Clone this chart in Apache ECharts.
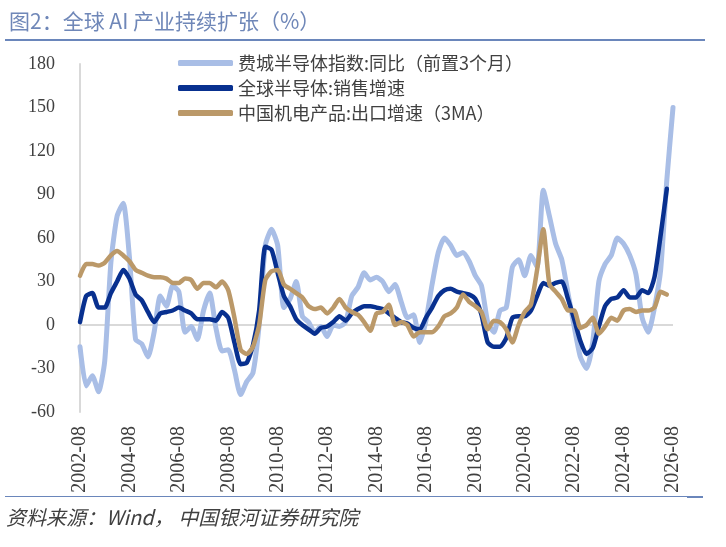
<!DOCTYPE html>
<html>
<head>
<meta charset="utf-8">
<script src="https://cdn.jsdelivr.net/npm/echarts@6/dist/echarts.min.js"></script>
<style>
html,body{margin:0;padding:0;background:#fff;}
#main{width:726px;height:547px;}
</style>
</head>
<body>
<div id="main"></div>
<script>
// 季度数据, 2002-08 ~ 2026-08
var startYear = 2002, startMonth = 8, count = 97;
var seriesNames = ['费城半导体指数:同比（前置3个月）', '全球半导体:销售增速', '中国机电产品:出口增速（3MA）'];
var yTicks = [-60, -30, 0, 30, 60, 90, 120, 150, 180];

var sox = [-15, -42, -35, -46, -25, 43, 75, 84, 47, -10, -13, -22, -5, 20, 13, 27, 23, -5, -1, -10,
	10, 22, -2, -18, -17, -31, -48, -39, -33, 0, 55, 66, 55, 12, 18, 30, 6, 2, -5,
	-1, -8, 0, -1, 2, 20, 26, 36, 31, 33, 30, 23, 28, 16, 5, 7, -12, 3, 28, 50,
	60, 55, 48, 50, 44, 34, 27, 2, -5, 10, 12, 40, 45, 34, 48, 40, 93, 75, 56, 45,
	22, -1, -22, -30, -12, 30, 42, 48, 60, 56, 48, 35, 5, -5, 12, 38, 100, 150];
var semi = [2, 20, 22, 12, 12, 22, 30, 38, 32, 21, 17, 9, 2, 8, 9, 10, 12, 10, 8, 4,
	4, 4, 3, 9, 5, -12, -27, -26, -14, 10, 54, 52, 36, 20, 13, 4, 0, -3, -6,
	-2, -1, 2, 6, 3, 8, 11, 13, 13, 12, 11, 8, 5, 2, 1, -2, -3, 5, 12, 20,
	24, 25, 23, 22, 21, 18, 7, -12, -15, -15, -9, 5, 6, 6, 10, 20, 29, 27, 29, 30,
	18, 4, -11, -20, -16, -1, 13, 18, 19, 24, 19, 19, 24, 22, 33, 62, 94, null];
var mech = [34, 42, 42, 41, 43, 48, 51, 48, 44, 38, 36, 34, 33, 33, 32, 29, 29, 32, 31, 25,
	29, 29, 26, 30, 24, 5, -17, -20, -15, 0, 31, 37, 38, 28, 25, 22, 19, 13, 11,
	12, 8, 12, 18, 12, 9, 7, 2, -4, 8, 9, 14, 0, 2, 0, -8, -5, -5, -5, -1,
	6, 8, 12, 21, 16, 13, 9, -3, 3, 2, -3, -12, 0, 9, 14, 38, 66, 28, 23, 18,
	10, 10, -2, 0, 5, -6, -1, 5, 3, 10, 11, 9, 10, 10, 12, 23, 21, null];

var dates = [];
for (var i = 0; i < count; i++) {
	var m = startMonth - 1 + i * 3;
	var y = startYear + Math.floor(m / 12);
	var mm = m % 12 + 1;
	dates.push(y + '-' + (mm < 10 ? '0' + mm : mm));
}

var colors = ['#a9bee6', '#08308f', '#bb9969'];
var widths = [5, 4.5, 4.5];
var values = [sox, semi, mech];

var series = [];
for (var k = 0; k < 3; k++) {
	series.push({
		name: seriesNames[k],
		type: 'line',
		data: values[k],
		showSymbol: false,
		symbol: 'none',
		smooth: 0.2,
		lineStyle: { color: colors[k], width: widths[k], cap: 'round', join: 'round' },
		itemStyle: { color: colors[k] }
	});
}
series[0].markLine = {
	silent: true,
	symbol: 'none',
	label: { show: false },
	lineStyle: { color: '#d9d9d9', width: 2, type: 'solid' },
	data: [{ yAxis: 0 }],
	z: 1
};

var myChart = echarts.init(document.getElementById('main'));
var option = {
	backgroundColor: '#fff',
	animation: false,
	title: {
		text: '图2：全球 AI 产业持续扩张（%）',
		left: 4,
		top: 6,
		textStyle: { color: '#6f87b8', fontSize: 21, fontWeight: 'normal', fontFamily: 'Noto Sans CJK SC' }
	},
	legend: {
		orient: 'vertical',
		left: 178,
		top: 54,
		padding: 0,
		itemWidth: 55,
		itemHeight: 6,
		itemGap: 7,
		icon: 'roundRect',
		textStyle: { color: '#404040', fontSize: 18, fontFamily: 'Noto Sans CJK SC' },
		data: seriesNames
	},
	grid: { left: 80, right: 53, top: 64, bottom: 135, containLabel: false },
	xAxis: {
		type: 'category',
		data: dates,
		boundaryGap: false,
		axisLine: { show: false, onZero: false },
		axisTick: { show: false },
		axisLabel: {
			interval: 7,
			rotate: 90,
			margin: 14,
			color: '#404040',
			fontSize: 20,
			fontFamily: 'Liberation Serif'
		},
		splitLine: { show: false }
	},
	yAxis: {
		type: 'value',
		min: yTicks[0],
		max: yTicks[yTicks.length - 1],
		interval: 30,
		axisLine: { show: true, lineStyle: { color: '#d9d9d9', width: 2 } },
		axisTick: { show: false },
		axisLabel: { color: '#404040', fontSize: 18, margin: 25, fontFamily: 'Liberation Serif' },
		splitLine: { show: false }
	},
	graphic: [
		{ type: 'rect', shape: { x: 5, y: 39, width: 700, height: 2 }, style: { fill: '#6a86bb' } },
		{ type: 'rect', shape: { x: 5, y: 496, width: 682, height: 1 }, style: { fill: '#6a86bb' } },
		{ type: 'rect', shape: { x: 687, y: 496, width: 16, height: 2 }, style: { fill: '#6a86bb' } },
		{
			type: 'text',
			left: 6,
			top: 507,
			style: {
				text: '资料来源：Wind， 中国银河证券研究院',
				fill: '#404040',
				fontSize: 20,
				fontStyle: 'italic',
				fontFamily: 'Noto Sans CJK SC'
			}
		}
	],
	series: series
};
myChart.setOption(option);
</script>
</body>
</html>
